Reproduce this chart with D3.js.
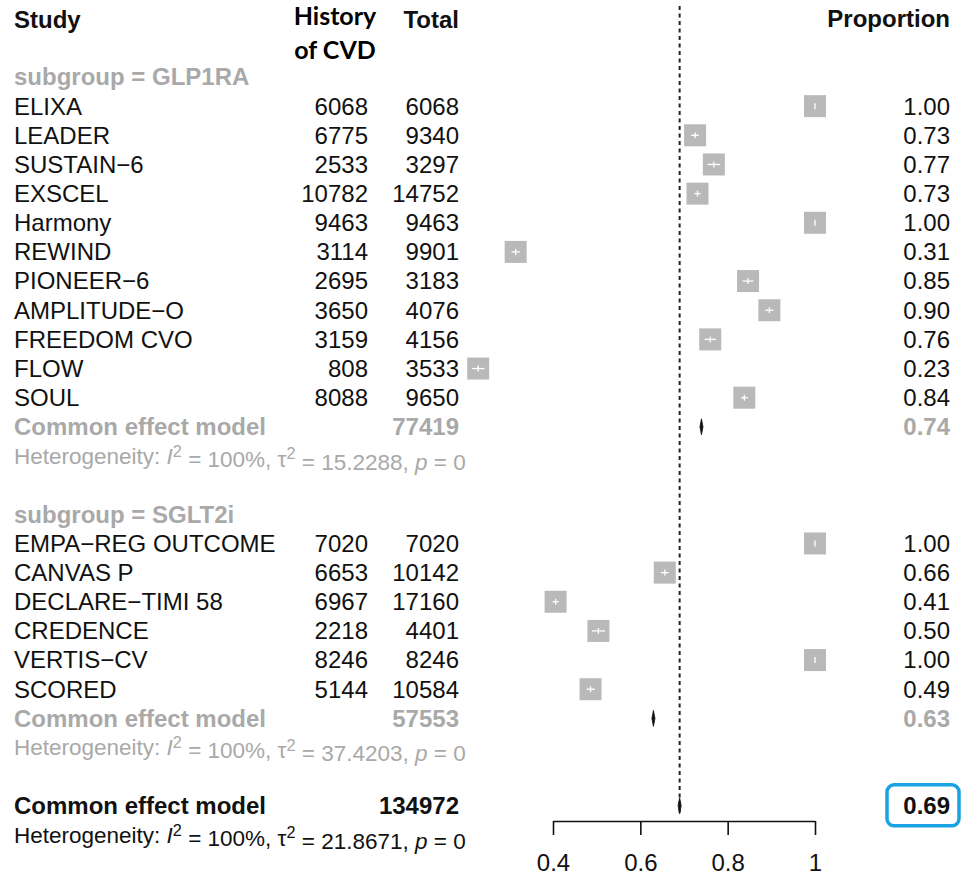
<!DOCTYPE html>
<html><head><meta charset="utf-8">
<script src="https://cdn.jsdelivr.net/npm/d3@7"></script>
<style>
html,body{margin:0;padding:0;background:#fff;}
svg{display:block;}
text{font-family:"Liberation Sans",Arial,Helvetica,sans-serif;}
</style></head>
<body>
<svg id="chart" width="962" height="875"></svg>
<script>
// ---------- DATA ----------
const glpStudies = ["ELIXA","LEADER","SUSTAIN\u22126","EXSCEL","Harmony","REWIND","PIONEER\u22126","AMPLITUDE\u2212O","FREEDOM CVO","FLOW","SOUL"];
const glpCVD     = [6068, 6775, 2533, 10782, 9463, 3114, 2695, 3650, 3159, 808, 8088];
const glpTotal   = [6068, 9340, 3297, 14752, 9463, 9901, 3183, 4076, 4156, 3533, 9650];
const glpProp    = [1.00, 0.7254, 0.7683, 0.7309, 1.00, 0.3145, 0.8467, 0.8955, 0.7601, 0.2287, 0.8381];
const glpLower   = [0.9994, 0.716, 0.754, 0.724, 0.9996, 0.305, 0.834, 0.886, 0.747, 0.215, 0.831];
const glpUpper   = [1.00, 0.734, 0.783, 0.738, 1.00, 0.324, 0.859, 0.905, 0.773, 0.243, 0.846];

const sgltStudies = ["EMPA\u2212REG OUTCOME","CANVAS P","DECLARE\u2212TIMI 58","CREDENCE","VERTIS\u2212CV","SCORED"];
const sgltCVD     = [7020, 6653, 6967, 2218, 8246, 5144];
const sgltTotal   = [7020, 10142, 17160, 4401, 8246, 10584];
const sgltProp    = [1.00, 0.656, 0.406, 0.504, 1.00, 0.486];
const sgltLower   = [0.9995, 0.647, 0.399, 0.489, 0.9996, 0.477];
const sgltUpper   = [1.00, 0.665, 0.413, 0.519, 1.00, 0.496];

const subgroupNames = ["GLP1RA","SGLT2i"];
const subTotals   = [77419, 57553];
const subProp     = [0.74, 0.63];
const subLower    = [0.7365, 0.6265];
const subUpper    = [0.7435, 0.6335];
const subI2       = ["100%","100%"];
const subTau2     = ["15.2288","37.4203"];
const subP        = ["0","0"];

const overallTotal = 134972;
const overallProp  = 0.69;
const overallLower = 0.6865;
const overallUpper = 0.6935;
const overallI2 = "100%", overallTau2 = "21.8671", overallP = "0";

const axisTicks = [0.4, 0.6, 0.8, 1];
const refValue = 0.69;

// ---------- LAYOUT ----------
const svg = d3.select("#chart");
const x = d3.scaleLinear().domain([0.4, 1]).range([553, 815]);
const y = d3.scaleLinear().domain([0, 26]).range([77, 835]);
const GRAY = "#a9a9a9", BLACK = "#111";
const FS = 24, FSH = 22.5;
const colStudy = 14, colCVD = 368, colTotal = 459, colProp = 950;

// build rows
const rows = [];
let r = 0;
function addGroup(gi, studies, cvd, total, prop, lo, hi){
  rows.push({type:"sub", row:r++, label:"subgroup = " + subgroupNames[gi]});
  studies.forEach((s,i)=>rows.push({type:"study", row:r++, label:s, cvd:cvd[i], total:total[i], prop:prop[i], lo:lo[i], hi:hi[i]}));
  rows.push({type:"cem", row:r++, label:"Common effect model", total:subTotals[gi], prop:subProp[gi], lo:subLower[gi], hi:subUpper[gi], color:GRAY});
  rows.push({type:"het", row:r++, i2:subI2[gi], tau2:subTau2[gi], p:subP[gi], color:GRAY});
  r++;
}
addGroup(0, glpStudies, glpCVD, glpTotal, glpProp, glpLower, glpUpper);
addGroup(1, sgltStudies, sgltCVD, sgltTotal, sgltProp, sgltLower, sgltUpper);
rows.push({type:"cem", row:r++, label:"Common effect model", total:overallTotal, prop:overallProp, lo:overallLower, hi:overallUpper, color:BLACK, overall:true});
rows.push({type:"het", row:r++, i2:overallI2, tau2:overallTau2, p:overallP, color:BLACK});

// ---------- HEADERS ----------
svg.append("text").attr("x", colStudy).attr("y", 28).attr("font-size", 24).attr("font-weight", "bold").attr("fill", BLACK).text("Study");
svg.append("text").attr("x", colTotal).attr("y", 28).attr("text-anchor","end").attr("font-size", 24).attr("font-weight", "bold").attr("fill", BLACK).text("Total");
svg.append("text").attr("x", colProp).attr("y", 27).attr("text-anchor","end").attr("font-size", 24).attr("font-weight", "bold").attr("fill", BLACK).text("Proportion");
const hist = svg.append("text").attr("text-anchor","middle").attr("font-size", 25).attr("font-weight","bold").attr("fill","#000")
  .style("font-family","Lato, 'Open Sans', sans-serif");
hist.append("tspan").attr("x", 335).attr("y", 25).text("History");
hist.append("tspan").attr("x", 335).attr("y", 59).text("of CVD");

// ---------- REFERENCE LINE ----------
svg.append("line").attr("x1", x(refValue)).attr("x2", x(refValue)).attr("y1", 6).attr("y2", 814)
  .attr("stroke", "#222").attr("stroke-width", 2).attr("stroke-dasharray", "4,3.5");

// ---------- ROWS ----------
rows.forEach(d=>{
  const yc = y(d.row);
  if(d.type === "sub"){
    svg.append("text").attr("x", colStudy).attr("y", yc).attr("dy","0.35em").attr("font-size", FS).attr("font-weight","bold").attr("fill", GRAY).text(d.label);
  } else if(d.type === "study"){
    svg.append("text").attr("x", colStudy).attr("y", yc).attr("dy","0.35em").attr("font-size", FS).attr("fill", BLACK).text(d.label);
    svg.append("text").attr("x", colCVD).attr("y", yc).attr("dy","0.35em").attr("text-anchor","end").attr("font-size", FS).attr("fill", BLACK).text(d.cvd);
    svg.append("text").attr("x", colTotal).attr("y", yc).attr("dy","0.35em").attr("text-anchor","end").attr("font-size", FS).attr("fill", BLACK).text(d.total);
    svg.append("text").attr("x", colProp).attr("y", yc).attr("dy","0.35em").attr("text-anchor","end").attr("font-size", FS).attr("fill", BLACK).text(d3.format(".2f")(d.prop));
    const bs = 22;
    svg.append("rect").attr("x", x(d.prop)-bs/2).attr("y", yc-bs/2).attr("width", bs).attr("height", bs).attr("fill", "#b9b9b9");
    svg.append("line").attr("x1", x(d.lo)).attr("x2", x(d.hi)).attr("y1", yc).attr("y2", yc).attr("stroke","#fff").attr("stroke-width",1.3);
    svg.append("line").attr("x1", x(d.prop)).attr("x2", x(d.prop)).attr("y1", yc-3).attr("y2", yc+3).attr("stroke","#fff").attr("stroke-width",1.3);
  } else if(d.type === "cem"){
    const fw = "bold";
    svg.append("text").attr("x", colStudy).attr("y", yc).attr("dy","0.35em").attr("font-size", FS).attr("font-weight",fw).attr("fill", d.color).text(d.label);
    svg.append("text").attr("x", colTotal).attr("y", yc).attr("dy","0.35em").attr("text-anchor","end").attr("font-size", FS).attr("font-weight",fw).attr("fill", d.color).text(d.total);
    svg.append("text").attr("x", colProp).attr("y", yc).attr("dy","0.35em").attr("text-anchor","end").attr("font-size", FS).attr("font-weight",fw).attr("fill", d.color).text(d3.format(".2f")(d.prop));
    const h = 8;
    svg.append("polygon").attr("points", [[x(d.lo),yc],[x(d.prop),yc-h],[x(d.hi),yc],[x(d.prop),yc+h]].map(p=>p.join(",")).join(" "))
      .attr("fill","#111").attr("stroke","#111").attr("stroke-width",0.8);
    if(d.overall){
      svg.append("rect").attr("x", 887).attr("y", yc-21).attr("width", 72).attr("height", 41).attr("rx", 7)
        .attr("fill","none").attr("stroke","#1aa3e3").attr("stroke-width",3.5);
    }
  } else if(d.type === "het"){
    const t = svg.append("text").attr("x", colStudy).attr("y", yc).attr("dy","0.35em").attr("font-size", FSH).attr("fill", d.color);
    t.append("tspan").text("Heterogeneity: ");
    t.append("tspan").attr("font-style","italic").text("I");
    t.append("tspan").attr("dy","-0.45em").attr("font-size", FSH*0.72).text("2");
    t.append("tspan").attr("dy","0.45em").text(" = " + d.i2 + ", \u03C4");
    t.append("tspan").attr("dy","-0.45em").attr("font-size", FSH*0.72).text("2");
    t.append("tspan").attr("dy","0.45em").text(" = " + d.tau2 + ", ");
    t.append("tspan").attr("font-style","italic").text("p");
    t.append("tspan").text(" = " + d.p);
  }
});

// ---------- AXIS ----------
const axis = d3.axisBottom(x).tickValues(axisTicks).tickSize(14).tickSizeOuter(0).tickPadding(19)
  .tickFormat(v => v === 1 ? "1" : d3.format(".1f")(v));
const ag = svg.append("g").attr("transform", "translate(0,821)").call(axis);
ag.select(".domain").attr("stroke","#111").attr("stroke-width",1.6);
ag.selectAll(".tick line").attr("stroke","#111").attr("stroke-width",1.6);
ag.selectAll(".tick text").attr("font-size", 24).attr("fill", BLACK).style("font-family","'Liberation Sans',Arial,sans-serif");
</script>
</body></html>
